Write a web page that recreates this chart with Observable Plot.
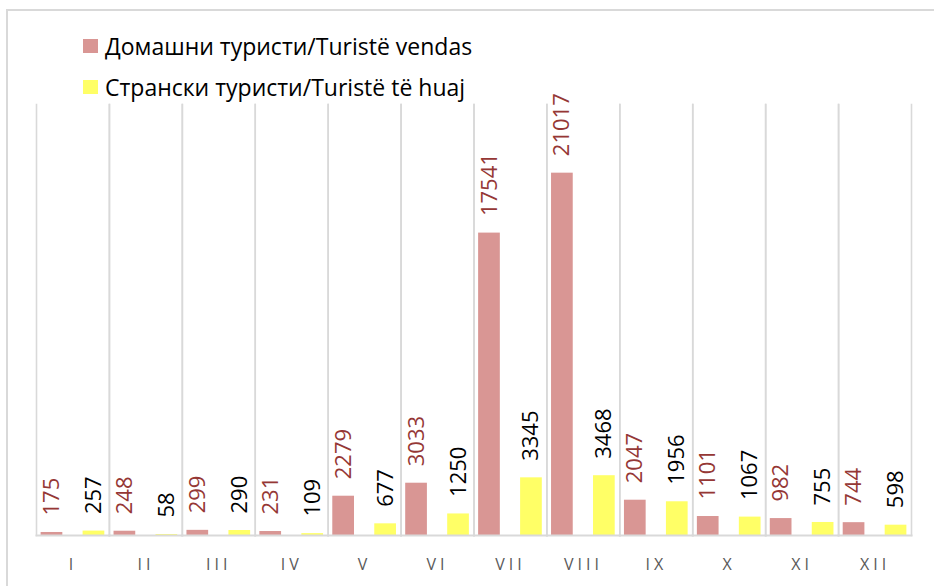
<!DOCTYPE html>
<html>
<head>
<meta charset="utf-8">
<script src="https://cdn.jsdelivr.net/npm/d3@7"></script>
<script src="https://cdn.jsdelivr.net/npm/@observablehq/plot@0.6"></script>
<style>
  html, body { margin: 0; padding: 0; background: #fff; }
  #wrap { position: relative; width: 934px; height: 586px; overflow: hidden; font-family: "Open Sans", sans-serif; }
  #border { position: absolute; left: 6px; top: 9px; width: 960px; height: 600px; border: 2px solid #d9d9d9; box-sizing: border-box; }
  #legend { position: relative; height: 100px; }
  .item { position: absolute; left: 83px; display: flex; align-items: center; font-size: 23px; color: #000; white-space: nowrap; }
  .sw { width: 15px; height: 14px; margin-right: 7px; }
  #chart { position: relative; }
  #chart svg { display: block; }
  g[aria-label="fx-axis tick label"] text { letter-spacing: 4px; }
</style>
</head>
<body>
<div id="wrap">
  <div id="border"></div>
  <div id="legend"></div>
  <div id="chart"></div>
</div>
<script>
const months = ["I","II","III","IV","V","VI","VII","VIII","IX","X","XI","XII"];
const seriesNames = ["Домашни туристи/Turistë vendas", "Странски туристи/Turistë të huaj"];
const domestic = [175, 248, 299, 231, 2279, 3033, 17541, 21017, 2047, 1101, 982, 744];
const foreign = [257, 58, 290, 109, 677, 1250, 3345, 3468, 1956, 1067, 755, 598];
const barColors = ["#d99694", "#ffff66"];
const labelColors = ["#953735", "#000000"];

const rows = [];
months.forEach((m, i) => {
  rows.push({month: m, series: seriesNames[0], value: domestic[i]});
  rows.push({month: m, series: seriesNames[1], value: foreign[i]});
});

// Legend
const legend = document.getElementById("legend");
const legendTops = [30, 71];
seriesNames.forEach((s, i) => {
  const it = document.createElement("div");
  it.className = "item";
  it.style.top = legendTops[i] + "px";
  const sw = document.createElement("span");
  sw.className = "sw";
  sw.style.background = barColors[i];
  const tx = document.createElement("span");
  tx.textContent = s;
  it.appendChild(sw); it.appendChild(tx);
  legend.appendChild(it);
});

const grid = {stroke: "#d9d9d9", strokeWidth: 1.6};

const chart = Plot.plot({
  width: 934,
  height: 486,
  marginTop: 4,
  marginBottom: 51,
  marginLeft: 36,
  marginRight: 23,
  style: {fontFamily: "Open Sans, sans-serif", background: "transparent", overflow: "visible"},
  fx: {domain: months, padding: 0, round: false, label: null},
  x: {domain: seriesNames, paddingInner: 0.483, paddingOuter: 0.11, round: false, axis: null},
  y: {domain: [0, 25000], axis: null},
  color: {domain: seriesNames, range: barColors},
  marks: [
    Plot.frame({anchor: "left", ...grid}),
    Plot.frame({anchor: "right", ...grid}),
    Plot.barY(rows, {fx: "month", x: "series", y: "value", fill: "series"}),
    Plot.frame({anchor: "bottom", stroke: "#d9d9d9", strokeWidth: 2}),
    Plot.text(rows, {filter: d => d.series === seriesNames[0], fx: "month", x: "series", y: "value", text: d => String(d.value),
      rotate: -90, textAnchor: "start", lineAnchor: "middle", dy: -17, fill: labelColors[0], fontSize: 22}),
    Plot.text(rows, {filter: d => d.series === seriesNames[1], fx: "month", x: "series", y: "value", text: d => String(d.value),
      rotate: -90, textAnchor: "start", lineAnchor: "middle", dy: -17, fill: labelColors[1], fontSize: 22}),
    Plot.axisFx({anchor: "bottom", tickSize: 0, tickPadding: 23, fontSize: 16, fill: "#595959", label: null})
  ]
});
document.getElementById("chart").appendChild(chart);
</script>
</body>
</html>
